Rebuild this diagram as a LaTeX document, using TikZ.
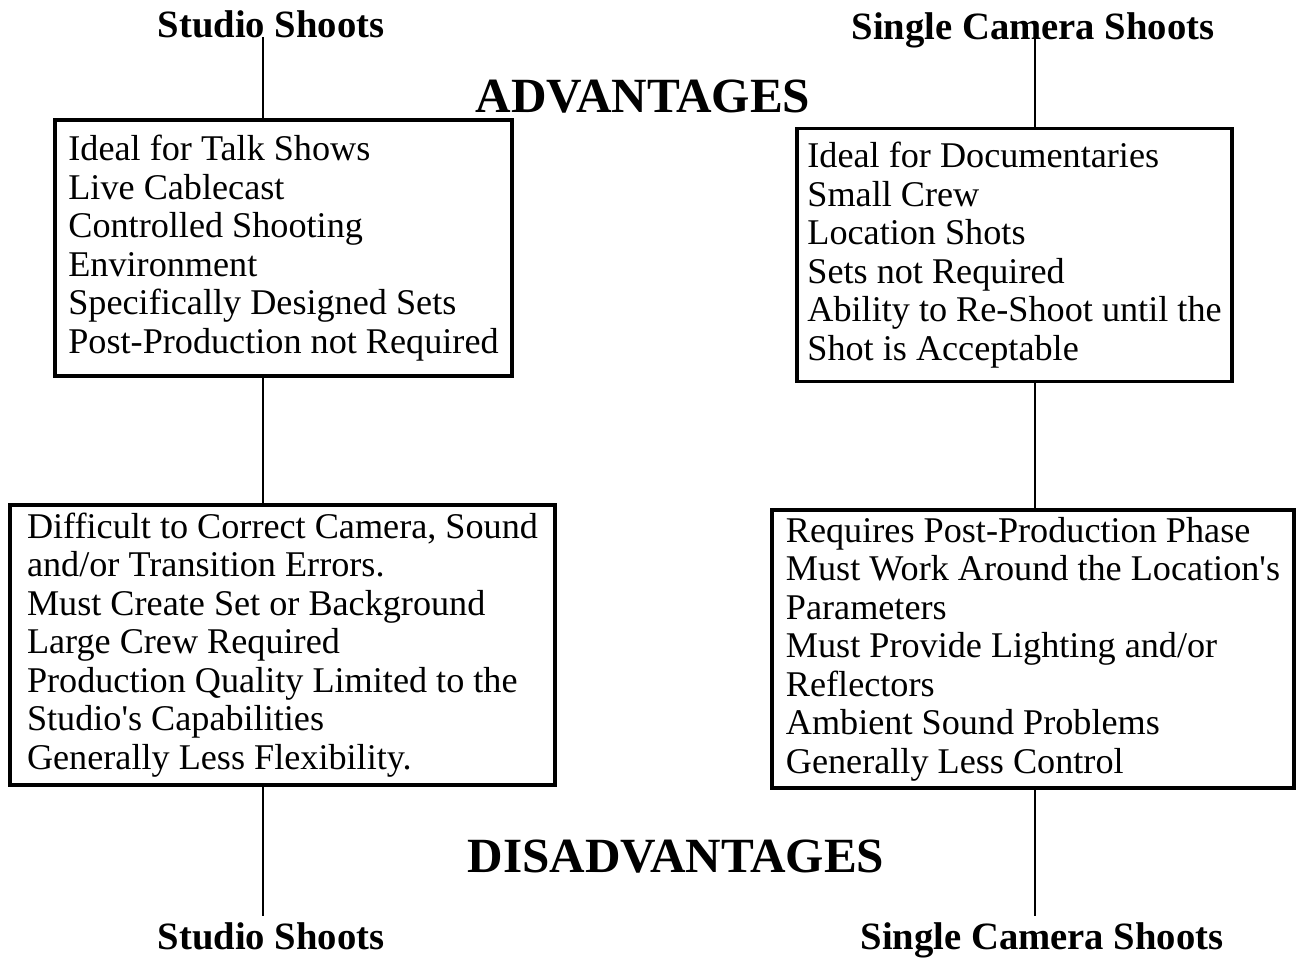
\documentclass[tikz,border=0pt]{standalone}
\usepackage{fontspec}
\setmainfont{Liberation Serif}

\begin{document}
\begin{tikzpicture}[
    x=0.02cm, y=-0.02cm,
    box/.style={draw, line width=2.2pt, align=left, inner sep=0pt,
        font=\fontsize{20.6}{21.9}\selectfont},
    title/.style={anchor=base, font=\fontsize{22}{24}\selectfont\bfseries},
    head/.style={font=\fontsize{28}{30}\selectfont\bfseries},
    link/.style={line width=1.1pt}
]
\useasboundingbox (0,0) rectangle (1297,958);

% headings
\node[head] (adv) at (643,97) {ADVANTAGES};
\node[head] (disadv) at (676,857) {DISADVANTAGES};

% shoot titles
\node[title] (studioTop) at (271,37) {Studio Shoots};
\node[title] (singleTop) at (1033,39) {Single Camera Shoots};
\node[title] (studioBot) at (271,949) {Studio Shoots};
\node[title] (singleBot) at (1042,949) {Single Camera Shoots};

% boxes
\node[box, minimum width=9.14cm, minimum height=5.12cm] (studioAdv) at (283.5,248)
    {Ideal for Talk Shows\\Live Cablecast\\Controlled Shooting\\Environment\\
     Specifically Designed Sets\\Post-Production not Required};
\node[box, minimum width=8.7cm, minimum height=5.06cm] (singleAdv) at (1014.5,255)
    {Ideal for Documentaries\\Small Crew\\Location Shots\\Sets not Required\\
     Ability to Re-Shoot until the\\Shot is Acceptable};
\node[box, minimum width=10.9cm, minimum height=5.6cm] (studioDis) at (282.5,645)
    {Difficult to Correct Camera, Sound\\and/or Transition Errors.\\
     Must Create Set or Background\\Large Crew Required\\
     Production Quality Limited to the\\Studio\textquotesingle s Capabilities\\
     Generally Less Flexibility.};
\node[box, minimum width=10.44cm, minimum height=5.56cm] (singleDis) at (1033,649)
    {Requires Post-Production Phase\\Must Work Around the Location\textquotesingle s\\
     Parameters\\Must Provide Lighting and/or\\Reflectors\\
     Ambient Sound Problems\\Generally Less Control};

% spines
\coordinate (spineL) at (263,0);
\coordinate (spineR) at (1035,0);
\draw[link] (spineL |- studioTop.base) -- (spineL |- studioAdv.north);
\draw[link] (spineL |- studioAdv.south) -- (spineL |- studioDis.north);
\draw[link] (spineL |- studioDis.south) -- (spineL |- studioBot.north);
\draw[link] (spineR |- singleTop.base) -- (spineR |- singleAdv.north);
\draw[link] (spineR |- singleAdv.south) -- (spineR |- singleDis.north);
\draw[link] (spineR |- singleDis.south) -- (spineR |- singleBot.north);
\end{tikzpicture}
\end{document}
